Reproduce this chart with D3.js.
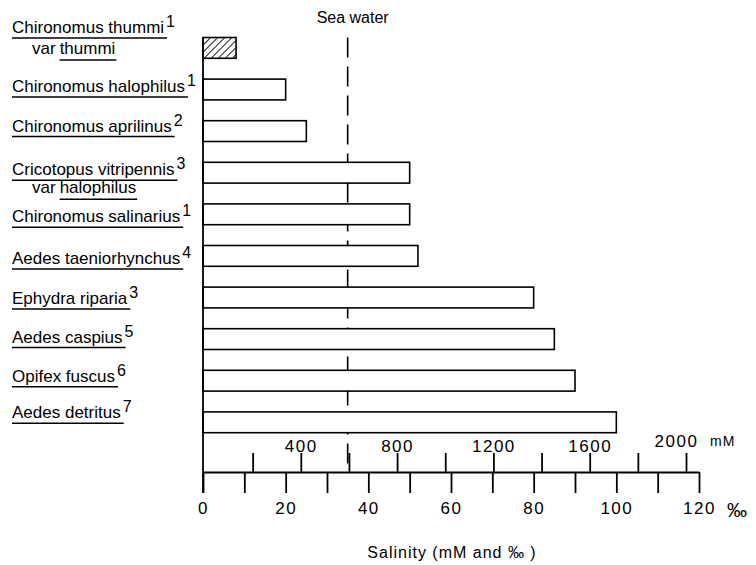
<!DOCTYPE html>
<html><head><meta charset="utf-8">
<script src="https://cdn.jsdelivr.net/npm/d3@7"></script>
<style>body{margin:0;background:#fff}svg{display:block}</style>
</head><body><svg id="c" width="756" height="565"></svg>
<script>
// ---- data ----
const species = ["Chironomus thummi","Chironomus halophilus","Chironomus aprilinus","Cricotopus vitripennis","Chironomus salinarius","Aedes taeniorhynchus","Ephydra riparia","Aedes caspius","Opifex fuscus","Aedes detritus"];
const varieties = ["thummi",null,null,"halophilus",null,null,null,null,null,null];
const references = ["1","1","2","3","1","4","3","5","6","7"];
const maxSalinityPermille = [8,20,25,50,50,52,80,85,90,100];
const hatched = [true,false,false,false,false,false,false,false,false,false];
const seaWaterPermille = 35;
const permilleTicks = [0,10,20,30,40,50,60,70,80,90,100,110,120];
const permilleLabels = [0,20,40,60,80,100,120];
const mMTicks = [200,400,600,800,1000,1200,1400,1600,1800,2000];
const mMLabels = [400,800,1200,1600,2000];

// ---- layout ----
const FONT = "'Liberation Sans', Arial, sans-serif";
const labelNudge = [[-15,6],[2.5],[0.5],[2.5,20.5],[8],[8],[6.5],[3.5],[1],[-4]];
const axisY = 472;

const svg = d3.select("#c");
svg.append("rect").attr("width",756).attr("height",565).attr("fill","#fff");

const x = d3.scaleLinear().domain([0,120]).range([203,699]);
const xmM = d3.scaleLinear().domain([0,2000]).range([204.5,686]);
const y = d3.scaleBand().domain(d3.range(species.length)).range([27.1,443.1]).paddingInner(0.5).paddingOuter(0.25);

// hatch pattern
const defs = svg.append("defs");
const pat = defs.append("pattern").attr("id","hatch").attr("patternUnits","userSpaceOnUse")
  .attr("width",5).attr("height",5).attr("patternTransform","rotate(45)");
pat.append("rect").attr("width",5).attr("height",5).attr("fill","#fff");
pat.append("line").attr("x1",0).attr("y1",0).attr("x2",0).attr("y2",5).attr("stroke","#000").attr("stroke-width",1.8);

// sea water dashed line
svg.append("line").attr("x1",x(seaWaterPermille)).attr("x2",x(seaWaterPermille))
  .attr("y1",y(0)).attr("y2",axisY)
  .attr("stroke","#000").attr("stroke-width",1.6).attr("stroke-dasharray","20 9");
svg.append("text").attr("x",x(seaWaterPermille)+5).attr("y",23).attr("text-anchor","middle")
  .attr("font-family",FONT).attr("font-size",16).text("Sea water");

// bars
svg.append("g").selectAll("rect").data(species).join("rect")
  .attr("x",x(0)).attr("y",(d,i)=>y(i))
  .attr("width",(d,i)=>x(maxSalinityPermille[i])-x(0))
  .attr("height",y.bandwidth())
  .attr("fill",(d,i)=>hatched[i]?"url(#hatch)":"#fff")
  .attr("stroke","#000").attr("stroke-width",1.6);

// vertical axis line
svg.append("line").attr("x1",x(0)).attr("x2",x(0)).attr("y1",y(0)).attr("y2",axisY+21)
  .attr("stroke","#000").attr("stroke-width",1.8);

// permille axis (below)
const axP = d3.axisBottom(x).tickValues(permilleTicks).tickSize(21).tickSizeOuter(0).tickPadding(9)
  .tickFormat(d=>permilleLabels.includes(d)?d:"");
const gP = svg.append("g").attr("transform",`translate(0,${axisY})`).call(axP);
gP.select(".domain").attr("stroke-width",1.8);
gP.selectAll(".tick line").attr("stroke-width",1.8);
gP.selectAll("text").attr("font-family",FONT).attr("font-size",17).attr("letter-spacing",1.5).attr("fill","#000");
svg.append("text").attr("x",727).attr("y",517).attr("font-family",FONT).attr("font-size",20).text("‰");

// mM axis (above)
const axM = d3.axisTop(xmM).tickValues(mMTicks).tickSize(19).tickSizeOuter(0).tickPadding(1)
  .tickFormat(d=>mMLabels.includes(d)?d:"");
const gM = svg.append("g").attr("transform",`translate(0,${axisY})`).call(axM);
gM.select(".domain").remove();
gM.selectAll(".tick line").attr("stroke-width",1.8);
gM.selectAll("text").attr("font-family",FONT).attr("font-size",17).attr("letter-spacing",1.5).attr("fill","#000")
  .attr("dx",d=>d===2000?-10:0).attr("dy",d=>d===2000?-5:0);
svg.append("text").attr("x",710).attr("y",446).attr("font-family",FONT).attr("font-size",14).attr("letter-spacing",1).text("mM");

// axis title
svg.append("text").attr("x",452).attr("y",558).attr("text-anchor","middle")
  .attr("font-family",FONT).attr("font-size",16).attr("letter-spacing",1).text("Salinity (mM and ‰ )");

// species labels
const lab = svg.append("g").attr("font-family",FONT).attr("font-size",17).attr("fill","#000");
species.forEach((name,i)=>{
  const c = y(i) + y.bandwidth()/2;
  const b1 = c + labelNudge[i][0];
  const t = lab.append("text").attr("x",12).attr("y",b1).text(name);
  const w = t.node().getComputedTextLength();
  t.append("tspan").attr("dx",2).attr("dy",-6).attr("font-size",16).text(references[i]);
  lab.append("line").attr("x1",12).attr("x2",12+w+3).attr("y1",b1+5).attr("y2",b1+5)
    .attr("stroke","#000").attr("stroke-width",1.5);
  if (varieties[i]) {
    const b2 = c + labelNudge[i][1];
    const v = lab.append("text").attr("x",32).attr("y",b2).text("var ");
    const vw = v.node().getComputedTextLength();
    const v2 = lab.append("text").attr("x",32+vw+4).attr("y",b2).text(varieties[i]);
    const w2 = v2.node().getComputedTextLength();
    lab.append("line").attr("x1",32+vw+4).attr("x2",32+vw+4+w2+1).attr("y1",b2+6).attr("y2",b2+6)
      .attr("stroke","#000").attr("stroke-width",1.5);
  }
});
</script></body></html>
